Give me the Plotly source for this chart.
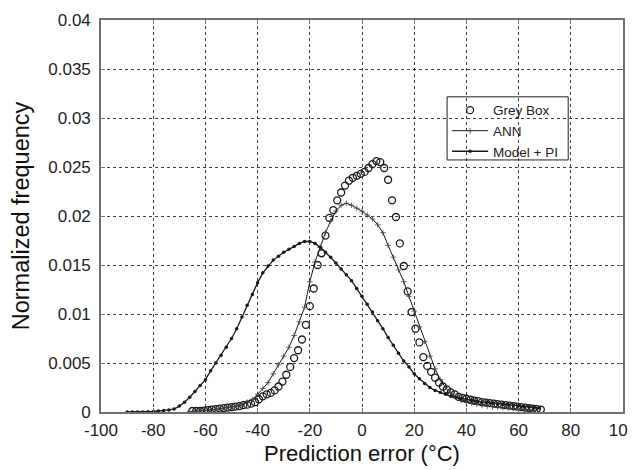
import plotly.graph_objects as go

# ---------------- data (values in units of frequency) ----------------
grey_x = [-65, -63.5, -62, -60.5, -59, -57.5, -56, -54.5, -53, -51.5,
          -50, -48.5, -47, -45.5, -44, -42.5, -41, -39.5, -38, -36.5,
          -35, -33.5, -32, -30.5, -29, -27.5, -26, -24.5, -23, -21.5,
          -20, -18.5, -17, -15.5, -14, -12.5, -11, -9.5, -8, -6.5,
          -5, -3.5, -2, -0.5, 1, 2.5, 4, 5.5, 7, 8.5,
          10, 11.5, 13, 14.5, 16, 17.5, 19, 20.5, 22, 23.5,
          25, 26.5, 28, 29.5, 31, 32.5, 34, 35.5, 37, 38.5,
          40, 41.5, 43, 44.5, 46, 47.5, 49, 50.5, 52, 53.5,
          55, 56.5, 58, 59.5, 61, 62.5, 64, 65.5, 67, 68.5]
grey_y = [0.0001, 0.0001, 0.0001, 0.00015, 0.0002, 0.00025, 0.0003, 0.00035, 0.0004, 0.00045,
          0.0005, 0.00055, 0.0006, 0.0007, 0.00075, 0.00085, 0.0010, 0.0013, 0.0016, 0.0018,
          0.00195, 0.0022, 0.0026, 0.0031, 0.0038, 0.0046, 0.0055, 0.0063, 0.0074, 0.0089,
          0.0108, 0.0126, 0.0150, 0.0162, 0.0180, 0.0198, 0.0206, 0.0216, 0.0224, 0.0231,
          0.0236, 0.0239, 0.0241, 0.0243, 0.0245, 0.0249, 0.0253, 0.0256, 0.0255, 0.0249,
          0.0237, 0.0216, 0.0199, 0.0172, 0.0149, 0.0123, 0.0102, 0.0085, 0.0071, 0.0056,
          0.0047, 0.0041, 0.0035, 0.0030, 0.0026, 0.0023, 0.0020, 0.0018, 0.00155, 0.00145,
          0.00135, 0.00125, 0.00115, 0.0011, 0.0010, 0.00095, 0.0009, 0.00085, 0.0008, 0.00075,
          0.0007, 0.00065, 0.0006, 0.00055, 0.0005, 0.00045, 0.0004, 0.00035, 0.0003, 0.00025]

ann_x = [-66, -64, -62, -60, -58, -56, -54, -52, -50, -48,
         -46, -44, -42, -40, -38, -36, -34, -32, -30, -28,
         -26, -24, -22, -20, -18, -16, -14, -12, -10, -8,
         -6, -4, -2, 0, 2, 4, 6, 8, 10, 12,
         14, 16, 18, 20, 22, 24, 26, 28, 30, 32,
         34, 36, 38, 40, 42, 44, 46, 48, 50, 52,
         54, 56, 58, 60, 62, 64, 66]
ann_y = [0.00005, 0.00008, 0.0001, 0.00015, 0.0002, 0.00028, 0.00035, 0.00042, 0.0005, 0.0006,
         0.0007, 0.0010, 0.0013, 0.0018, 0.0024, 0.0030, 0.0039, 0.0048, 0.0057, 0.0066,
         0.0078, 0.0092, 0.0107, 0.0133, 0.0153, 0.0168, 0.0183, 0.0195, 0.0205, 0.0211,
         0.0213, 0.0211, 0.0208, 0.0205, 0.0201, 0.0197, 0.0191, 0.0183, 0.0170, 0.0158,
         0.0145, 0.0133, 0.0118, 0.0103, 0.0087, 0.0072, 0.0057, 0.0044, 0.0033, 0.0025,
         0.0019, 0.0015, 0.0012, 0.0010, 0.0009, 0.0008, 0.0007, 0.0006, 0.00055, 0.0005,
         0.00045, 0.0004, 0.00035, 0.0003, 0.00025, 0.0002, 0.00015]

model_x = [-90, -88, -86, -84, -82, -80, -78, -76, -74, -72,
           -70, -68, -66, -64, -62, -60, -58, -56, -54, -52,
           -50, -48, -46, -44, -42, -40, -38, -36, -34, -32,
           -30, -28, -26, -24, -22, -20, -18, -16, -14, -12,
           -10, -8, -6, -4, -2, 0, 2, 4, 6, 8,
           10, 12, 14, 16, 18, 20, 22, 24, 26, 28,
           30, 32, 34, 36, 38, 40, 42, 44, 46, 48,
           50, 52, 54, 56, 58, 60, 62, 64, 66, 68]
model_y = [0.0, 0.0, 0.0, 0.0, 0.00002, 0.00005, 0.0001, 0.00015, 0.0002, 0.0003,
           0.0006, 0.0010, 0.0015, 0.0021, 0.0027, 0.0033, 0.0042, 0.0050, 0.0058, 0.0066,
           0.0075, 0.0085, 0.0097, 0.0109, 0.0120, 0.0132, 0.0142, 0.0149, 0.0155, 0.0159,
           0.0163, 0.0166, 0.0169, 0.0172, 0.0174, 0.0174, 0.0172, 0.0168, 0.0163, 0.0158,
           0.0152, 0.0146, 0.0140, 0.0134, 0.0126, 0.0118, 0.0110, 0.0102, 0.0093, 0.0085,
           0.0076, 0.0068, 0.0060, 0.0052, 0.0046, 0.0039, 0.0034, 0.0029, 0.0025, 0.0022,
           0.0020, 0.0018, 0.0016, 0.0015, 0.0014, 0.0013, 0.0012, 0.0011, 0.0010, 0.0010,
           0.0009, 0.00085, 0.0008, 0.00075, 0.0007, 0.00065, 0.00055, 0.0005, 0.00045, 0.0004]

x_ticks = [-100, -80, -60, -40, -20, 0, 20, 40, 60, 80, 100]
x_tick_text = ["-100", "-80", "-60", "-40", "-20", "0", "20", "40", "60", "80", "100"]
y_ticks = [0, 0.005, 0.01, 0.015, 0.02, 0.025, 0.03, 0.035, 0.04]
y_tick_text = ["0", "0.005", "0.01", "0.015", "0.02", "0.025", "0.03", "0.035", "0.04"]

# ---------------- figure ----------------
INK = "#1a1a1a"
FONT = "Liberation Sans, Arial, sans-serif"

fig = go.Figure()
fig.add_trace(go.Scatter(
    x=grey_x, y=grey_y, mode="markers", name="Grey Box",
    marker=dict(symbol="circle-open", size=7, color=INK, line=dict(width=1.3, color=INK)),
))
fig.add_trace(go.Scatter(
    x=ann_x, y=ann_y, mode="lines+markers", name="ANN",
    line=dict(color=INK, width=1),
    marker=dict(symbol="cross-thin", size=4, color="#444444", line=dict(width=0.8, color="#444444")),
))
fig.add_trace(go.Scatter(
    x=model_x, y=model_y, mode="lines+markers", name="Model + PI",
    line=dict(color=INK, width=1.3),
    marker=dict(symbol="circle", size=3.5, color=INK),
))

axis_common = dict(
    showline=True, linecolor="#707070", linewidth=1.6, mirror="ticks",
    ticks="inside", ticklen=4, tickcolor="#707070",
    showgrid=True, gridcolor="#404040", gridwidth=1.3, griddash="dot",
    zeroline=False, automargin=False, ticklabeloverflow="allow",
    tickfont=dict(family=FONT, size=17, color="#222222"),
)

fig.update_xaxes(
    range=[-100, 100], tickvals=x_ticks, ticktext=x_tick_text, ticklabelstandoff=2,
    title=dict(text="Prediction error (°C)", font=dict(family=FONT, size=22, color="#111111"), standoff=6),
    **axis_common,
)
fig.update_yaxes(
    range=[0, 0.04], tickvals=y_ticks, ticktext=y_tick_text, ticklabelstandoff=5,
    title=dict(text="Normalized frequency", font=dict(family=FONT, size=23.5, color="#111111"), standoff=12),
    **axis_common,
)

# legend frame drawn as a paper-anchored rectangle so its padding matches the reference
fig.add_shape(
    type="rect", xref="paper", yref="paper",
    x0=0.663, x1=0.895, y0=0.643, y1=0.804,
    line=dict(color="#222222", width=1), fillcolor="rgba(0,0,0,0)", layer="above",
)

# the page body adds an 8px offset, so the figure is sized to end at the window edge
fig.update_layout(
    width=628, height=462,
    margin=dict(l=93, r=13, t=12, b=58),
    paper_bgcolor="white", plot_bgcolor="white",
    showlegend=True,
    legend=dict(
        x=0.663, y=0.809, xanchor="left", yanchor="top",
        bgcolor="rgba(255,255,255,0)", borderwidth=0,
        font=dict(family=FONT, size=13.5, color="#222222"),
        itemwidth=36, tracegroupgap=0,
    ),
)

fig.write_html("out.html")
